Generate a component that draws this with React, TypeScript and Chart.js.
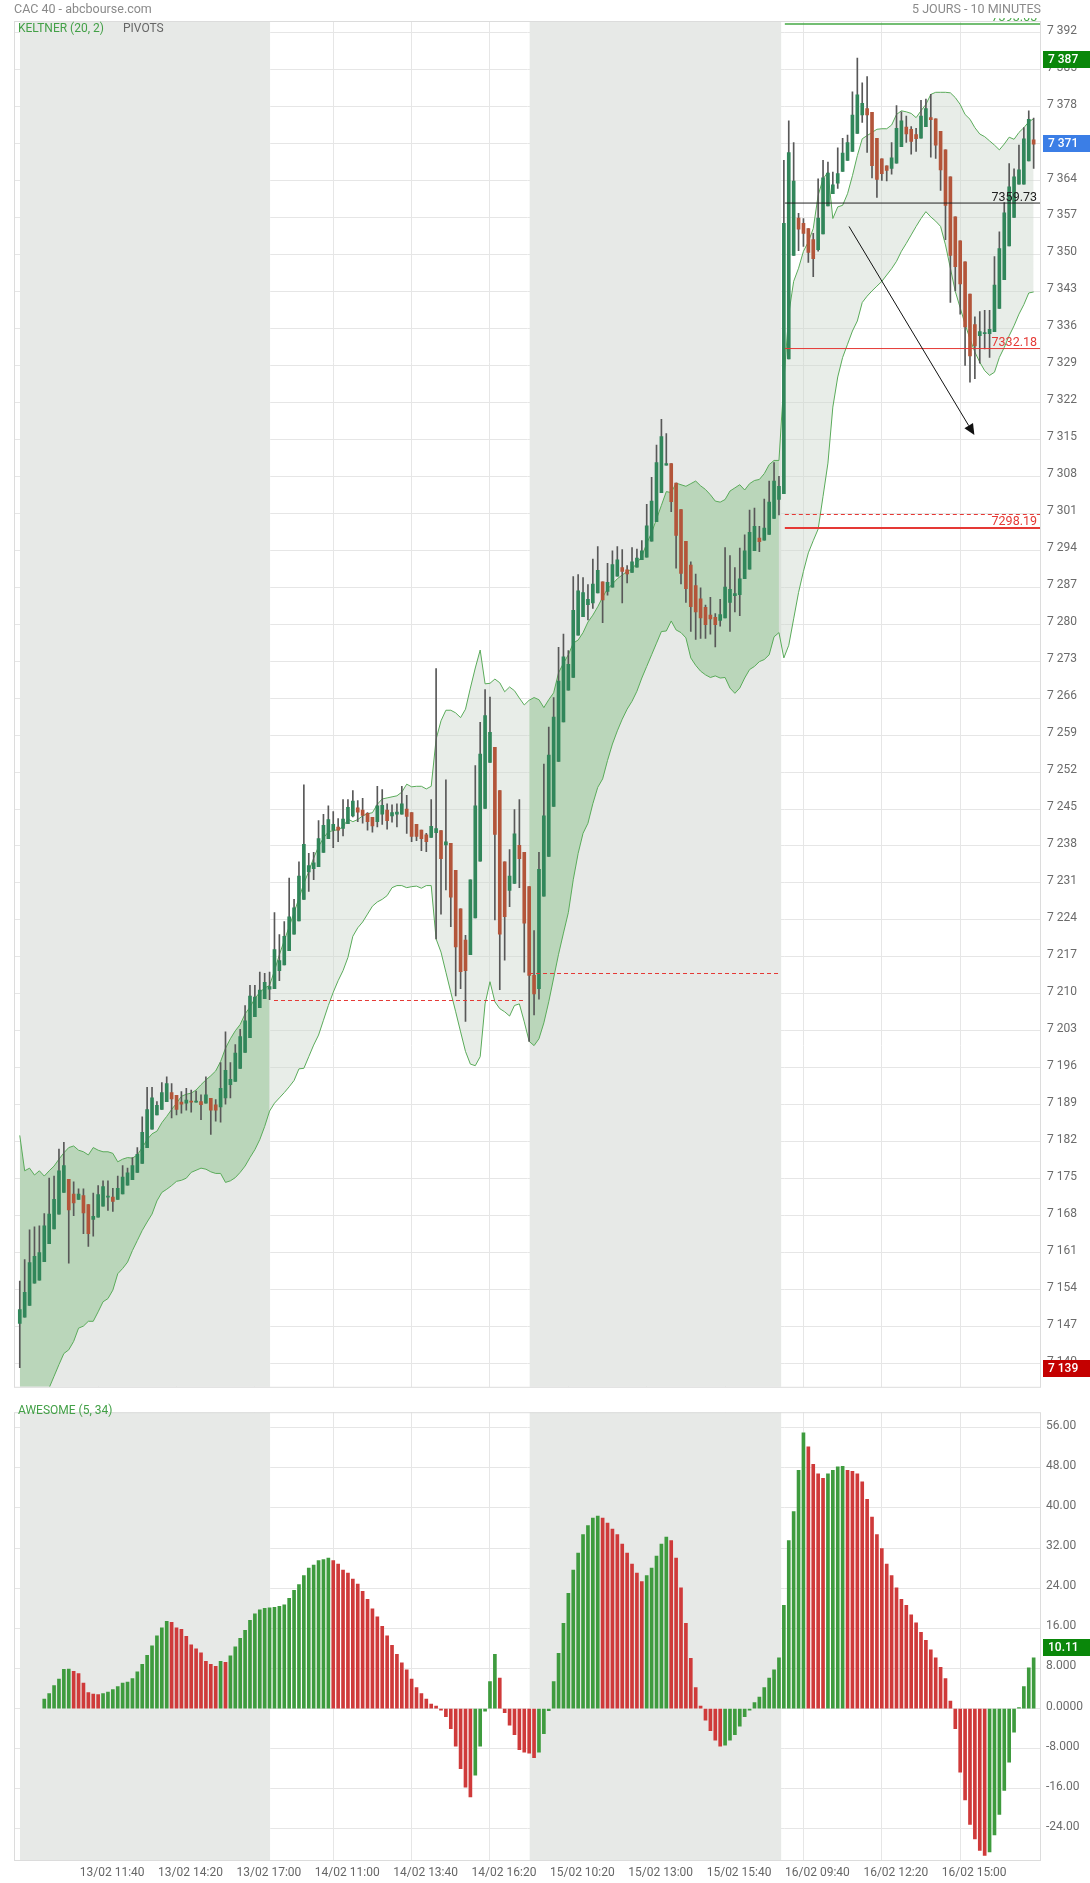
import React, { useEffect, useRef } from "react";
import { Chart, registerables } from "chart.js";

Chart.register(...registerables);

// ---------------- DATA ----------------
const xTickBars = [16, 32, 48, 64, 80, 96, 112, 128, 144, 160, 176, 192];
const xTickLabels = [
  "13/02 11:40", "13/02 14:20", "13/02 17:00", "14/02 11:00", "14/02 13:40", "14/02 16:20",
  "15/02 10:20", "15/02 13:00", "15/02 15:40", "16/02 09:40", "16/02 12:20", "16/02 15:00",
];
const priceTicks = [
  7140, 7147, 7154, 7161, 7168, 7175, 7182, 7189, 7196, 7203, 7210, 7217, 7224, 7231, 7238, 7245,
  7252, 7259, 7266, 7273, 7280, 7287, 7294, 7301, 7308, 7315, 7322, 7329, 7336, 7343, 7350, 7357,
  7364, 7371, 7378, 7385, 7392,
];
const aoTicks = [-24, -16, -8, 0, 8, 16, 24, 32, 40, 48, 56];
const aoTickLabels = ["-24.00", "-16.00", "-8.000", "0.0000", "8.000", "16.00", "24.00", "32.00", "40.00", "48.00", "56.00"];

// shaded sessions (13/02 and 15/02), in bar units
const shadedSessions = [[0.05, 51.1], [104.1, 155.45]];

const opens = [
  7147.6, 7148.8, 7151.0, 7155.2, 7155.8, 7159.3, 7162.7, 7165.5, 7168.3, 7172.4,
  7174.9, 7172.1, 7171.1, 7171.8, 7170.1, 7167.3, 7167.7, 7169.8, 7171.5, 7171.5,
  7171.1, 7172.1, 7173.8, 7174.8, 7176.2, 7177.9, 7180.9, 7184.4, 7187.1, 7188.1,
  7189.6, 7191.3, 7190.8, 7189.5, 7189.3, 7189.7, 7189.5, 7189.6, 7189.3, 7190.2,
  7189.0, 7188.6, 7190.3, 7192.8, 7193.4, 7195.9, 7198.9, 7201.7, 7205.7, 7207.4,
  7209.1, 7210.9,
  7211.0, 7214.4, 7215.5, 7218.2, 7221.3, 7223.8, 7227.9, 7233.1, 7233.7, 7234.1,
  7236.8, 7239.4, 7241.0, 7241.6, 7241.3, 7242.2, 7243.7, 7245.2, 7244.8, 7244.2,
  7243.4, 7242.6, 7244.0, 7244.8, 7243.7, 7244.0, 7244.0, 7245.0, 7244.3, 7242.1,
  7241.0, 7240.1, 7239.6, 7240.5, 7240.9, 7238.2, 7238.5, 7233.4, 7226.1, 7220.2,
  7217.4, 7224.4, 7235.1, 7245.1, 7253.8, 7256.7, 7248.5, 7235.0, 7229.6, 7230.9,
  7238.1, 7236.8,
  7230.3, 7213.5, 7211.0, 7228.5, 7236.0, 7245.5, 7254.0, 7261.5, 7267.5, 7269.9,
  7277.9, 7281.4, 7283.7, 7284.0, 7285.9, 7288.0, 7286.2, 7287.0, 7289.1, 7290.7,
  7290.3, 7289.8, 7290.8, 7292.2, 7292.7, 7295.7, 7299.4, 7304.9, 7310.1, 7310.4,
  7306.7, 7301.7, 7295.7, 7291.2, 7287.3, 7284.8, 7283.2, 7281.7, 7281.3, 7280.7,
  7281.2, 7284.1, 7285.4, 7285.6, 7288.6, 7290.4, 7293.9, 7296.3, 7295.9, 7297.0,
  7300.0, 7303.6,
  7304.7, 7330.2, 7349.8, 7356.9, 7355.9, 7354.9, 7352.8, 7350.9, 7353.9, 7359.2,
  7361.5, 7363.5, 7365.7, 7367.8, 7369.5, 7372.9, 7376.4, 7377.6, 7376.9, 7372.0,
  7368.1, 7366.8, 7366.3, 7367.3, 7370.4, 7374.1, 7373.7, 7372.7, 7372.0, 7374.2,
  7375.9, 7375.7, 7373.3, 7369.8, 7364.7, 7357.1, 7352.6, 7348.6, 7342.5, 7336.7,
  7334.6, 7335.0, 7335.0, 7335.4, 7339.8, 7345.2, 7351.6, 7357.0, 7363.3, 7363.3,
  7367.7, 7371.7,
];
const highs = [
  7155.6, 7159.7, 7165.3, 7165.9, 7166.1, 7168.4, 7175.1, 7175.5, 7180.6, 7181.9,
  7174.9, 7174.4, 7173.1, 7173.1, 7170.1, 7172.3, 7173.7, 7174.6, 7174.6, 7173.2,
  7175.5, 7177.5, 7177.0, 7179.0, 7180.9, 7186.7, 7192.3, 7192.3, 7189.6, 7193.2,
  7194.3, 7193.0, 7190.8, 7191.5, 7192.1, 7191.8, 7191.6, 7190.9, 7194.3, 7190.2,
  7190.0, 7197.0, 7202.8, 7197.0, 7200.4, 7203.3, 7207.8, 7211.6, 7211.6, 7214.1,
  7213.9, 7214.1,
  7225.4, 7221.2, 7223.7, 7231.9, 7227.9, 7235.0, 7249.6, 7236.6, 7236.8, 7242.8,
  7244.0, 7245.6, 7244.5, 7243.2, 7246.8, 7246.8, 7248.5, 7246.6, 7247.0, 7244.3,
  7243.4, 7249.3, 7248.7, 7246.0, 7245.8, 7246.0, 7249.3, 7247.6, 7244.3, 7242.1,
  7241.0, 7240.4, 7246.8, 7271.6, 7240.9, 7250.5, 7238.5, 7233.4, 7226.1, 7221.1,
  7231.6, 7253.2, 7261.4, 7267.6, 7266.2, 7256.7, 7248.5, 7235.0, 7237.3, 7244.9,
  7246.8, 7236.8,
  7230.3, 7222.0, 7236.8, 7253.5, 7260.5, 7266.1, 7275.6, 7278.1, 7275.0, 7289.0,
  7289.4, 7288.8, 7287.5, 7292.3, 7294.7, 7288.0, 7291.5, 7293.9, 7294.7, 7294.1,
  7291.1, 7294.5, 7294.2, 7295.8, 7302.7, 7307.8, 7313.9, 7318.8, 7316.1, 7310.4,
  7306.7, 7301.7, 7295.7, 7291.8, 7289.5, 7286.9, 7283.6, 7285.1, 7282.0, 7284.7,
  7294.5, 7293.0, 7290.7, 7294.4, 7296.9, 7301.6, 7302.0, 7298.5, 7303.7, 7307.1,
  7310.6, 7308.0,
  7367.8, 7375.3, 7371.2, 7357.8, 7356.8, 7354.9, 7354.0, 7364.3, 7367.8, 7367.5,
  7365.6, 7370.2, 7372.0, 7372.6, 7380.8, 7387.2, 7382.5, 7383.7, 7376.9, 7372.0,
  7368.1, 7366.8, 7371.2, 7378.2, 7377.0, 7376.2, 7374.2, 7373.9, 7379.2, 7379.4,
  7380.3, 7375.7, 7373.3, 7369.8, 7364.7, 7357.1, 7352.6, 7348.6, 7342.5, 7338.2,
  7339.2, 7339.4, 7339.4, 7349.6, 7354.3, 7359.8, 7367.2, 7366.2, 7370.7, 7374.0,
  7377.2, 7375.8,
];
const lows = [
  7139.2, 7148.8, 7151.0, 7155.2, 7155.8, 7159.3, 7162.7, 7165.5, 7168.3, 7172.4,
  7159.0, 7168.0, 7171.1, 7164.6, 7162.2, 7164.1, 7167.7, 7169.8, 7169.0, 7168.8,
  7171.1, 7172.1, 7173.8, 7174.8, 7176.2, 7177.9, 7180.9, 7184.4, 7187.1, 7188.1,
  7189.6, 7186.5, 7187.1, 7187.4, 7188.0, 7187.6, 7189.5, 7186.2, 7189.3, 7183.4,
  7185.9, 7185.7, 7189.1, 7190.3, 7193.4, 7195.9, 7198.9, 7201.7, 7205.7, 7207.4,
  7209.1, 7208.9,
  7211.0, 7212.5, 7215.5, 7218.2, 7221.3, 7223.8, 7227.9, 7229.4, 7231.6, 7234.1,
  7236.8, 7239.4, 7237.7, 7238.8, 7239.9, 7242.2, 7243.5, 7242.6, 7242.3, 7241.0,
  7240.6, 7241.6, 7242.1, 7241.2, 7242.5, 7241.6, 7244.0, 7240.4, 7238.8, 7239.0,
  7237.1, 7236.9, 7239.6, 7220.4, 7225.1, 7229.7, 7222.7, 7209.6, 7211.0, 7204.8,
  7217.4, 7224.4, 7235.1, 7245.1, 7253.8, 7224.0, 7210.8, 7216.4, 7226.5, 7230.9,
  7230.1, 7214.1,
  7201.0, 7206.0, 7209.0, 7228.5, 7236.0, 7245.5, 7254.0, 7261.5, 7267.5, 7269.9,
  7277.9, 7281.4, 7280.8, 7283.0, 7285.9, 7280.3, 7285.5, 7287.0, 7289.1, 7284.0,
  7287.8, 7289.8, 7290.8, 7292.2, 7292.7, 7295.7, 7299.4, 7304.9, 7310.1, 7301.3,
  7290.6, 7287.6, 7284.1, 7278.6, 7277.1, 7277.3, 7277.3, 7278.1, 7275.7, 7279.6,
  7281.2, 7278.6, 7282.3, 7281.6, 7288.6, 7290.4, 7293.9, 7293.7, 7295.9, 7297.0,
  7300.0, 7300.7,
  7304.7, 7330.2, 7349.8, 7350.7, 7351.5, 7348.5, 7345.8, 7350.6, 7353.9, 7359.2,
  7361.5, 7362.5, 7365.7, 7367.8, 7369.5, 7372.9, 7375.0, 7369.3, 7364.5, 7360.8,
  7364.0, 7363.9, 7365.2, 7367.3, 7370.4, 7371.2, 7369.0, 7369.5, 7372.0, 7374.2,
  7368.4, 7368.2, 7362.1, 7352.8, 7340.9, 7343.1, 7338.7, 7329.0, 7325.8, 7326.5,
  7329.4, 7332.1, 7330.5, 7335.4, 7339.8, 7345.2, 7351.6, 7357.0, 7363.3, 7363.3,
  7367.7, 7366.3,
];
const closes = [
  7150.2, 7153.5, 7159.1, 7160.3, 7161.0, 7166.1, 7168.3, 7171.1, 7176.5, 7177.5,
  7169.1, 7170.4, 7172.1, 7168.5, 7164.6, 7167.9, 7172.0, 7173.5, 7171.7, 7170.7,
  7173.2, 7175.3, 7176.1, 7177.5, 7179.6, 7183.8, 7188.1, 7190.3, 7188.9, 7191.3,
  7193.0, 7190.1, 7188.1, 7189.1, 7189.9, 7189.5, 7189.6, 7189.0, 7190.9, 7188.0,
  7188.0, 7192.1, 7195.5, 7193.8, 7198.8, 7201.9, 7204.9, 7209.6, 7209.4, 7210.7,
  7212.2, 7211.4,
  7218.4, 7216.3, 7220.9, 7224.6, 7226.3, 7232.3, 7238.3, 7234.3, 7234.8, 7239.4,
  7241.9, 7243.0, 7242.1, 7241.0, 7243.1, 7245.3, 7246.5, 7244.4, 7243.8, 7242.6,
  7241.8, 7245.6, 7245.7, 7242.8, 7244.3, 7244.4, 7246.0, 7243.6, 7239.8, 7239.8,
  7239.4, 7238.8, 7241.7, 7241.3, 7235.6, 7238.8, 7228.3, 7218.9, 7214.2, 7214.4,
  7231.6, 7245.6, 7255.4, 7262.7, 7259.5, 7240.2, 7221.3, 7224.6, 7232.3, 7240.3,
  7235.6, 7223.4,
  7213.5, 7210.0, 7233.6, 7243.7, 7255.2, 7262.4, 7269.2, 7273.8, 7272.4, 7282.6,
  7286.3, 7286.0, 7284.7, 7287.6, 7290.2, 7284.6, 7287.9, 7291.3, 7292.2, 7290.0,
  7289.5, 7291.8, 7292.5, 7293.9, 7298.6, 7303.3, 7310.6, 7315.5, 7310.4, 7303.2,
  7296.8, 7289.6, 7286.7, 7283.3, 7282.3, 7281.2, 7279.9, 7281.0, 7279.9, 7281.8,
  7287.0, 7286.6, 7285.8, 7288.6, 7293.9, 7297.4, 7298.5, 7295.6, 7298.2, 7303.1,
  7307.1, 7306.1,
  7355.9, 7369.3, 7363.9, 7354.8, 7354.0, 7350.4, 7349.2, 7356.9, 7364.5, 7365.4,
  7363.2, 7365.3, 7369.2, 7371.2, 7376.4, 7380.2, 7378.6, 7376.4, 7366.8, 7364.2,
  7365.3, 7365.9, 7368.3, 7373.9, 7375.3, 7372.8, 7371.4, 7371.9, 7376.2, 7377.6,
  7375.5, 7370.7, 7366.0, 7359.3, 7349.8, 7347.7, 7344.4, 7336.3, 7330.8, 7332.7,
  7335.4, 7335.2, 7335.8, 7344.2, 7351.1, 7357.9, 7362.8, 7364.7, 7366.0, 7371.9,
  7375.6, 7370.9,
];
const keltnerUpper = [
  7183.2, 7176.5, 7177.0, 7175.7, 7176.5, 7175.5, 7176.5, 7177.4, 7178.7, 7179.9,
  7180.9, 7181.2, 7180.4, 7180.1, 7179.5, 7180.9, 7180.4, 7180.1, 7180.1, 7179.8,
  7178.2, 7178.7, 7179.0, 7178.9, 7179.5, 7180.9, 7182.4, 7183.5, 7184.0, 7185.6,
  7186.8, 7188.1, 7189.3, 7190.6, 7191.0, 7191.2, 7191.8, 7192.8, 7193.7, 7194.5,
  7195.4, 7197.2, 7199.7, 7201.5, 7203.0, 7204.2, 7206.2, 7207.5, 7209.1, 7210.3,
  7211.1, 7211.6,
  7214.4, 7217.4, 7220.1, 7222.7, 7225.4, 7228.1, 7230.9, 7233.2, 7235.7, 7237.9,
  7239.5, 7240.7, 7240.9, 7241.1, 7241.6, 7243.1, 7242.6, 7243.0, 7243.7, 7244.1,
  7244.3, 7245.9, 7246.9, 7247.1, 7247.3, 7247.5, 7248.2, 7249.7, 7249.2, 7249.3,
  7249.3, 7248.8, 7249.3, 7258.2, 7261.7, 7263.7, 7263.7, 7263.2, 7262.3, 7263.9,
  7267.9, 7271.7, 7275.1, 7268.7, 7268.8, 7269.6, 7268.9, 7267.2, 7268.1, 7267.4,
  7266.0, 7264.7,
  7265.6, 7266.1, 7265.7, 7264.2, 7265.7, 7267.0, 7270.8, 7272.6, 7274.2, 7276.4,
  7277.0, 7278.4, 7280.4, 7281.7, 7283.3, 7285.1, 7286.7, 7287.6, 7288.6, 7289.3,
  7290.0, 7290.4, 7291.6, 7292.8, 7295.3, 7297.3, 7299.9, 7302.5, 7305.1, 7304.9,
  7306.7, 7306.4, 7306.1, 7306.6, 7307.1, 7306.2, 7305.5, 7304.5, 7303.3, 7303.1,
  7303.6, 7305.2, 7305.8, 7306.4, 7305.4, 7306.6, 7307.2, 7307.4, 7308.5, 7310.2,
  7311.0, 7311.0,
  7326.0, 7338.7, 7344.9, 7347.4, 7350.6, 7352.4, 7354.9, 7361.2, 7364.3, 7365.6,
  7356.8, 7359.0, 7359.3, 7361.5, 7364.9, 7368.7, 7371.9, 7372.5, 7373.1, 7373.7,
  7373.8, 7373.8, 7374.5, 7376.5, 7377.2, 7377.0, 7376.7, 7375.9, 7377.2, 7378.4,
  7380.3, 7380.7, 7380.7, 7380.7, 7380.6, 7379.7, 7378.4, 7376.5, 7375.6, 7374.0,
  7372.8, 7372.3, 7371.5, 7370.7, 7369.8, 7370.9, 7372.2, 7371.8, 7373.1, 7374.0,
  7375.1, 7375.7,
];
const keltnerLower = [
  7120.0, 7122.5, 7125.5, 7128.5, 7131.5, 7134.0, 7135.4, 7137.6, 7139.8, 7141.9,
  7142.6, 7144.2, 7146.7, 7147.1, 7148.0, 7148.0, 7149.8, 7151.7, 7152.3, 7153.9,
  7157.0, 7158.0, 7159.2, 7161.4, 7163.3, 7165.2, 7166.8, 7168.3, 7170.8, 7172.4,
  7173.0, 7173.7, 7174.5, 7174.7, 7175.1, 7176.2, 7176.6, 7177.0, 7176.8, 7176.3,
  7176.0, 7176.0, 7174.3, 7174.6, 7175.2, 7176.2, 7177.4, 7179.0, 7180.5, 7182.4,
  7184.9, 7187.8,
  7189.3, 7190.3, 7191.3, 7192.4, 7193.6, 7195.8, 7195.9, 7198.1, 7200.3, 7202.2,
  7205.0, 7207.8, 7210.3, 7212.5, 7214.4, 7216.9, 7220.9, 7222.5, 7223.6, 7225.1,
  7226.6, 7227.4, 7227.9, 7228.6, 7230.1, 7230.5, 7230.5, 7230.1, 7230.3, 7230.4,
  7230.0, 7230.5, 7230.5, 7220.4, 7217.9, 7214.1, 7210.3, 7206.6, 7202.8, 7199.1,
  7196.7, 7196.4, 7198.1, 7208.1, 7212.3, 7208.5, 7207.2, 7206.6, 7205.8, 7207.8,
  7208.1, 7204.7,
  7201.0, 7200.2, 7201.5, 7204.5, 7208.5, 7213.0, 7217.5, 7221.5, 7225.4, 7231.6,
  7236.6, 7240.4, 7242.3, 7246.0, 7249.1, 7250.7, 7254.2, 7257.3, 7259.8, 7262.0,
  7263.9, 7265.4, 7267.3, 7269.8, 7272.0, 7274.2, 7276.4, 7278.6, 7278.7, 7280.6,
  7278.9, 7278.4, 7277.4, 7273.6, 7272.2, 7271.1, 7270.4, 7269.9, 7270.2, 7269.8,
  7269.9, 7267.9, 7266.9, 7267.9, 7269.8, 7271.4, 7272.0, 7272.9, 7273.3, 7274.2,
  7277.6, 7278.4,
  7273.6, 7276.0, 7281.0, 7286.0, 7290.0, 7293.5, 7295.8, 7298.0, 7304.2, 7310.5,
  7321.1, 7326.8, 7330.5, 7333.0, 7335.5, 7337.4, 7340.9, 7342.1, 7343.1, 7344.0,
  7344.9, 7346.1, 7347.3, 7348.7, 7350.6, 7352.1, 7353.7, 7355.3, 7356.8, 7358.1,
  7357.1, 7356.3, 7355.3, 7351.8, 7347.4, 7343.0, 7339.9, 7336.8, 7334.0, 7331.5,
  7329.6, 7328.0, 7327.1, 7327.7, 7330.5, 7332.4, 7334.6, 7336.5, 7338.7, 7340.5,
  7342.7, 7342.9,
];
const awesome = [
  null, null, null, null, null, 1.9, 3.0, 4.6, 5.9, 7.8,
  7.85, 7.4, 7.0, 5.1, 3.2, 2.9, 2.8, 3.0, 3.3, 3.8,
  4.4, 5.1, 5.3, 6.0, 7.3, 8.8, 10.6, 12.5, 14.5, 16.1,
  17.4, 17.2, 16.1, 15.8, 14.4, 12.7, 11.9, 11.1, 9.4, 8.8,
  8.4, 9.4, 9.2, 10.5, 12.3, 14.0, 15.6, 17.6, 18.9, 19.7,
  20.0, 20.1,
  20.2, 20.4, 20.7, 22.0, 23.6, 24.7, 26.5, 28.0, 28.6, 29.5,
  29.7, 30.0, 29.5, 28.8, 27.6, 27.0, 25.8, 24.8, 23.4, 21.8,
  19.9, 18.3, 16.4, 14.5, 12.6, 10.8, 9.1, 7.7, 5.9, 4.2,
  3.0, 1.9, 0.9, 0.5, -0.3, -1.6, -4.0, -7.5, -12.0, -15.7,
  -17.6, -13.3, -7.5, -0.5, 5.4, 10.8, 6.1, -0.8, -3.3, -5.2,
  -8.2, -8.7,
  -8.9, -9.8, -8.7, -5.0, -0.4, 5.4, 11.0, 17.0, 23.0, 27.6,
  31.0, 34.7, 36.5, 38.0, 38.4, 38.0, 37.0, 35.8, 34.7, 32.8,
  31.0, 28.8, 27.0, 25.3, 26.5, 28.0, 30.4, 32.8, 34.2, 33.5,
  30.0, 24.1, 17.0, 10.0, 4.2, 0.5, -2.3, -4.4, -6.3, -7.5,
  -7.3, -6.3, -5.2, -3.5, -1.6, -0.3, 1.2, 2.3, 4.2, 6.1,
  7.7, 10.1,
  20.6, 33.5, 39.3, 47.5, 55.0, 52.2, 48.7, 46.8, 45.9, 46.8,
  47.5, 48.2, 48.3, 47.5, 47.3, 46.8, 45.2, 41.7, 38.2, 34.7,
  31.9, 28.8, 26.5, 24.1, 21.8, 20.6, 18.7, 17.1, 15.2, 13.6,
  11.7, 10.1, 8.2, 6.0, 1.5, -4.0, -12.7, -18.2, -23.1, -26.0,
  -28.3, -29.3, -28.6, -25.2, -21.1, -16.3, -10.7, -4.7, 0.2, 4.4,
  8.1, 10.1,
];

// pivots of the last session and previous-session levels
const pivotValues = [7393.65, 7359.73, 7332.18, 7298.19];
const pivotLabels = ["7393.65", "7359.73", "7332.18", "7298.19"];
const prevLevelValues = [7208.8, 7213.9, 7300.8];
const prevLevelRanges = [[51.9, 103.35], [103.97, 155.4], [156.2, 208.5]];
const pivotStart = 156.2;
const arrowFrom = [169.3, 7355.3];
const arrowTo = [194.9, 7315.8];
const lastClose = 7371;
const highestHigh = 7387;
const lowestLow = 7139;
const lastAwesome = "10.11";

// ---------------- STYLE ----------------
const FONT = "Roboto, 'Open Sans', sans-serif";
const GRID = "#e6e6e6";
const SHADE = "#e7e9e7";
const BAND_LINE = "#5aab5a";
const BAND_SHADED = "#bad6ba";
const BAND_PLAIN = "rgba(205,214,205,0.45)";
const UP = "#31865a";
const DOWN = "#b3553a";
const WICK = "#585858";
const AO_UP = "#3e9b3e";
const AO_DOWN = "#cf3a3a";
const X_MIN = -1.18;
const X_MAX = 208.5;
const P_MIN = 7135.6;
const P_MAX = 7394.2;
const A_MIN = -30.2;
const A_MAX = 59.1;
const pivotColors = ["#45a845", "#222222", "#e53935", "#e53935"];
const pivotWidths = [1.5, 1, 1, 2];

const N = opens.length;
const bars = Array.from({ length: N }, (_, i) => i);
const inShaded = (i: number) => (i >= 0 && i <= 51) || (i >= 104 && i <= 155);
const inPlain = (i: number) => (i >= 51 && i <= 104) || i >= 155;

function spaced(v: number) {
  return String(Math.round(v)).replace(/\B(?=(\d{3})+(?!\d))/g, " ");
}

const shadePlugin = {
  id: "shade",
  beforeDatasetsDraw(chart: any) {
    const { ctx, chartArea: a, scales } = chart;
    const x = scales.x;
    ctx.save();
    ctx.fillStyle = SHADE;
    for (const [s, e] of shadedSessions) {
      const x0 = x.getPixelForValue(s);
      const x1 = x.getPixelForValue(e);
      ctx.fillRect(x0, a.top, x1 - x0, a.bottom - a.top);
    }
    ctx.restore();
  },
  afterDraw(chart: any) {
    const { ctx, chartArea: a } = chart;
    ctx.save();
    ctx.strokeStyle = "#dcdcdc";
    ctx.lineWidth = 1;
    ctx.strokeRect(a.left + 0.5, a.top + 0.5, a.right - a.left - 1, a.bottom - a.top);
    ctx.restore();
  },
};

function drawBox(ctx: any, yc: number, color: string, text: string, left: number) {
  ctx.fillStyle = color;
  ctx.fillRect(left, Math.round(yc - 8.5), 1090 - left, 17);
  ctx.fillStyle = "#ffffff";
  ctx.font = `500 12px ${FONT}`;
  ctx.textAlign = "left";
  ctx.textBaseline = "middle";
  ctx.fillText(text, left + 5, yc + 0.5);
}

const mainOverlay = {
  id: "mainOverlay",
  afterDatasetsDraw(chart: any) {
    const { ctx, chartArea: a, scales } = chart;
    const x = scales.x;
    const y = scales.y;
    ctx.save();
    ctx.beginPath();
    ctx.rect(a.left, a.top, a.right - a.left, a.bottom - a.top);
    ctx.clip();
    // previous levels (dashed)
    ctx.strokeStyle = "#e53935";
    ctx.lineWidth = 1;
    ctx.setLineDash([4, 3]);
    prevLevelValues.forEach((v, k) => {
      const yy = Math.round(y.getPixelForValue(v)) + 0.5;
      ctx.beginPath();
      ctx.moveTo(x.getPixelForValue(prevLevelRanges[k][0]), yy);
      ctx.lineTo(x.getPixelForValue(prevLevelRanges[k][1]), yy);
      ctx.stroke();
    });
    ctx.setLineDash([]);
    // pivots
    const x0 = x.getPixelForValue(pivotStart);
    const x1 = a.right;
    pivotValues.forEach((v, k) => {
      const yy = y.getPixelForValue(v);
      ctx.strokeStyle = pivotColors[k];
      ctx.lineWidth = pivotWidths[k];
      ctx.beginPath();
      ctx.moveTo(x0, yy);
      ctx.lineTo(x1, yy);
      ctx.stroke();
    });
    // arrow
    const ax0 = x.getPixelForValue(arrowFrom[0]);
    const ay0 = y.getPixelForValue(arrowFrom[1]);
    const ax1 = x.getPixelForValue(arrowTo[0]);
    const ay1 = y.getPixelForValue(arrowTo[1]);
    const ang = Math.atan2(ay1 - ay0, ax1 - ax0);
    const hl = 11;
    const hw = 5;
    ctx.strokeStyle = "#111";
    ctx.lineWidth = 1;
    ctx.beginPath();
    ctx.moveTo(ax0, ay0);
    ctx.lineTo(ax1 - Math.cos(ang) * hl, ay1 - Math.sin(ang) * hl);
    ctx.stroke();
    ctx.fillStyle = "#111";
    ctx.beginPath();
    ctx.moveTo(ax1, ay1);
    const bx = ax1 - Math.cos(ang) * hl;
    const by = ay1 - Math.sin(ang) * hl;
    ctx.lineTo(bx + Math.sin(ang) * hw, by - Math.cos(ang) * hw);
    ctx.lineTo(bx - Math.sin(ang) * hw, by + Math.cos(ang) * hw);
    ctx.closePath();
    ctx.fill();
    ctx.restore();

    // pivot labels (clip slightly above the plot top, like the original)
    ctx.save();
    ctx.beginPath();
    ctx.rect(a.left, a.top - 3, a.right - a.left, a.bottom - a.top + 3);
    ctx.clip();
    pivotValues.forEach((v, k) => {
      const yy = y.getPixelForValue(v);
      ctx.fillStyle = pivotColors[k];
      ctx.font = `12.5px ${FONT}`;
      ctx.textAlign = "right";
      ctx.textBaseline = "alphabetic";
      ctx.fillText(pivotLabels[k], x1 - 4, yy - 2 - pivotWidths[k] / 2);
    });
    ctx.restore();
  },
  afterDraw(chart: any) {
    const { ctx, chartArea: a, scales } = chart;
    const y = scales.y;
    ctx.save();
    // header
    ctx.fillStyle = "#8a8a8a";
    ctx.font = `12.5px ${FONT}`;
    ctx.textBaseline = "middle";
    ctx.textAlign = "left";
    ctx.fillText("CAC 40 - abcbourse.com", 14, 10);
    ctx.textAlign = "right";
    ctx.fillText("5 JOURS - 10 MINUTES", a.right, 10);
    // legend
    ctx.textAlign = "left";
    ctx.font = `12px ${FONT}`;
    ctx.fillStyle = "#43a047";
    ctx.fillText("KELTNER (20, 2)", 18, 29);
    ctx.fillStyle = "#666666";
    ctx.fillText("PIVOTS", 123, 29);
    // value boxes
    drawBox(ctx, y.getPixelForValue(highestHigh), "#0a870a", spaced(highestHigh), a.right + 2);
    drawBox(ctx, y.getPixelForValue(lastClose), "#3b7ee6", spaced(lastClose), a.right + 2);
    drawBox(ctx, y.getPixelForValue(lowestLow), "#c40000", spaced(lowestLow), a.right + 2);
    ctx.restore();
  },
};

const aoOverlay = {
  id: "aoOverlay",
  afterDraw(chart: any) {
    const { ctx, chartArea: a } = chart;
    ctx.save();
    ctx.font = `12px ${FONT}`;
    ctx.fillStyle = "#43a047";
    ctx.textAlign = "left";
    ctx.textBaseline = "middle";
    ctx.fillText("AWESOME (5, 34)", 18, 11);
    drawBox(ctx, 247.5, "#0a870a", lastAwesome, a.right + 2);
    ctx.restore();
  },
};

const baseOptions = {
  responsive: false,
  animation: false as const,
  devicePixelRatio: 1,
  events: [] as any[],
  plugins: { legend: { display: false }, tooltip: { enabled: false } },
};

function xScale(showLabels: boolean) {
  return {
    type: "linear",
    min: X_MIN,
    max: X_MAX,
    offset: false,
    afterBuildTicks: (s: any) => {
      s.ticks = xTickBars.map((v) => ({ value: v }));
    },
    afterFit: (s: any) => {
      s.height = showLabels ? 23 : 0;
    },
    grid: { color: GRID, drawTicks: false, lineWidth: 1, offset: false },
    border: { display: false },
    ticks: {
      display: showLabels,
      autoSkip: false,
      maxRotation: 0,
      padding: 6,
      labelOffset: 14,
      color: "#666666",
      font: { family: FONT, size: 12 },
      callback: (_v: any, i: number) => xTickLabels[i],
    },
  };
}

export default function App() {
  const mainRef = useRef<HTMLCanvasElement>(null);
  const aoRef = useRef<HTMLCanvasElement>(null);

  useEffect(() => {
    const bodyColors = bars.map((i) => (closes[i] >= opens[i] ? UP : DOWN));
    const aoColors = bars.map((i) => {
      const prev = i > 0 ? awesome[i - 1] : null;
      const cur = awesome[i];
      if (cur == null || prev == null) return AO_UP;
      return cur >= prev ? AO_UP : AO_DOWN;
    });
    const noLine = { borderWidth: 0, borderColor: "rgba(0,0,0,0)", pointRadius: 0, tension: 0 };

    const main = new Chart(mainRef.current as HTMLCanvasElement, {
      type: "bar",
      data: {
        datasets: [
          {
            type: "bar",
            data: bars.map((i) => ({ x: i, y: [opens[i], closes[i]] })),
            backgroundColor: bodyColors,
            barThickness: 3,
            maxBarThickness: 3,
            grouped: false,
            minBarLength: 1,
            order: 0,
          },
          {
            type: "bar",
            data: bars.map((i) => ({ x: i, y: [lows[i], highs[i]] })),
            backgroundColor: WICK,
            barThickness: 1,
            maxBarThickness: 1,
            grouped: false,
            order: 1,
          },
          {
            type: "line",
            data: bars.map((i) => ({ x: i, y: keltnerUpper[i] })),
            borderColor: BAND_LINE,
            borderWidth: 1,
            pointRadius: 0,
            fill: false,
            tension: 0,
            order: 2,
          },
          {
            type: "line",
            data: bars.map((i) => ({ x: i, y: keltnerLower[i] })),
            borderColor: BAND_LINE,
            borderWidth: 1,
            pointRadius: 0,
            fill: false,
            tension: 0,
            order: 2,
          },
          {
            type: "line",
            data: bars.map((i) => ({ x: i, y: inShaded(i) ? keltnerUpper[i] : null })),
            ...noLine,
            fill: "+1",
            backgroundColor: BAND_SHADED,
            order: 3,
          },
          {
            type: "line",
            data: bars.map((i) => ({ x: i, y: inShaded(i) ? keltnerLower[i] : null })),
            ...noLine,
            fill: false,
            order: 3,
          },
          {
            type: "line",
            data: bars.map((i) => ({ x: i, y: inPlain(i) ? keltnerUpper[i] : null })),
            ...noLine,
            fill: "+1",
            backgroundColor: BAND_PLAIN,
            order: 4,
          },
          {
            type: "line",
            data: bars.map((i) => ({ x: i, y: inPlain(i) ? keltnerLower[i] : null })),
            ...noLine,
            fill: false,
            order: 4,
          },
        ] as any,
      },
      options: {
        ...baseOptions,
        layout: { padding: { left: 14, top: 21, right: 0, bottom: 2 } },
        scales: {
          x: xScale(false) as any,
          y: {
            type: "linear",
            position: "right",
            min: P_MIN,
            max: P_MAX,
            afterBuildTicks: (s: any) => {
              s.ticks = priceTicks.map((v) => ({ value: v }));
            },
            afterFit: (s: any) => {
              s.width = 49;
            },
            grid: { color: GRID, drawTicks: false },
            border: { display: false },
            ticks: {
              autoSkip: false,
              padding: 6,
              labelOffset: -2,
              color: "#6b6b6b",
              font: { family: FONT, size: 12 },
              callback: (v: any) => spaced(Number(v)),
            },
          },
        },
      } as any,
      plugins: [shadePlugin, mainOverlay],
    });

    const ao = new Chart(aoRef.current as HTMLCanvasElement, {
      type: "bar",
      data: {
        datasets: [
          {
            data: bars.map((i) => ({ x: i, y: awesome[i] })),
            backgroundColor: aoColors,
            barThickness: 3,
            maxBarThickness: 3,
            grouped: false,
          },
        ] as any,
      },
      options: {
        ...baseOptions,
        layout: { padding: { left: 14, top: 2, right: 0, bottom: 0 } },
        scales: {
          x: xScale(true) as any,
          y: {
            type: "linear",
            position: "right",
            min: A_MIN,
            max: A_MAX,
            afterBuildTicks: (s: any) => {
              s.ticks = aoTicks.map((v) => ({ value: v }));
            },
            afterFit: (s: any) => {
              s.width = 49;
            },
            grid: { color: GRID, drawTicks: false },
            border: { display: false },
            ticks: {
              autoSkip: false,
              padding: 5,
              labelOffset: -2,
              color: "#6b6b6b",
              font: { family: FONT, size: 12 },
              callback: (_v: any, i: number) => aoTickLabels[i],
            },
          },
        },
      } as any,
      plugins: [shadePlugin, aoOverlay],
    });

    return () => {
      main.destroy();
      ao.destroy();
    };
  }, []);

  return (
    <div style={{ position: "absolute", left: 0, top: 0, width: 1090, height: 1883, background: "#ffffff" }}>
      <canvas
        ref={mainRef}
        width={1090}
        height={1400}
        style={{ position: "absolute", left: 0, top: 0, width: 1090, height: 1400 }}
      />
      <canvas
        ref={aoRef}
        width={1090}
        height={483}
        style={{ position: "absolute", left: 0, top: 1400, width: 1090, height: 483 }}
      />
    </div>
  );
}
